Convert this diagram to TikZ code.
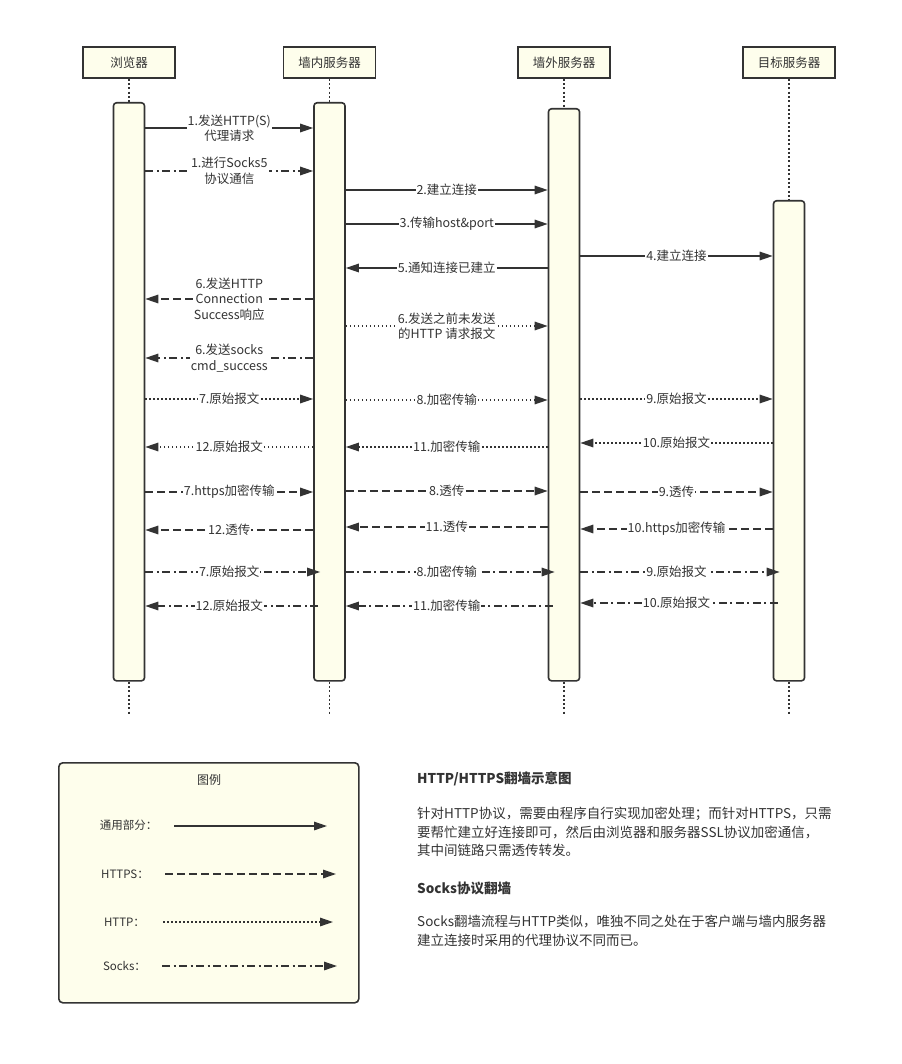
\documentclass[tikz,border=0pt]{standalone}
\usepackage{fontspec}
\setmainfont{Noto Sans CJK SC}
\usetikzlibrary{arrows.meta, positioning, calc}
\definecolor{ink}{HTML}{333333}
\definecolor{ivory}{HTML}{FEFEEC}
\def\barend{680}

\begin{document}
\begin{tikzpicture}[
    x=1pt, y=-1pt,
    every node/.style={text=ink},
    head/.style={draw=ink, line width=1.6pt, fill=ivory, minimum width=92pt,
                 minimum height=31pt, inner sep=0pt, font=\fontsize{12.5}{15}\selectfont},
    actbar/.style={draw=ink, line width=1.6pt, fill=ivory, rounded corners=3pt,
                   minimum width=31pt, inner sep=0pt, anchor=north},
    life/.style={draw=ink, line width=1.8pt, dash pattern=on 2pt off 2.3pt},
    msgall/.style={draw=ink, line width=1.4pt, -{Triangle[length=13pt, width=8.5pt]}},
    msghttps/.style={msgall, dash pattern=on 8pt off 4pt},
    msghttp/.style={msgall, dash pattern=on 1.5pt off 2.5pt},
    msgsocks/.style={msgall, dash pattern=on 8pt off 3.5pt on 2pt off 3.5pt},
    socksr/.style={msgsocks, shorten >=-7pt},
    socksl/.style={msgsocks, shorten <=-5pt},
    lab/.style={fill=white, inner sep=1pt, align=center,
                font=\fontsize{12.5}{15.5}\selectfont},
    legtxt/.style={font=\fontsize{11.5}{14}\selectfont},
    para/.style={font=\fontsize{13.5}{18.5}\selectfont, align=left, inner sep=0pt},
    heading/.style={font=\fontsize{13.5}{16}\selectfont\bfseries, inner sep=0pt, anchor=west},
]
\useasboundingbox (0,0) rectangle (901,1064);

% ---------------------------------------------------------- participants
\foreach \n/\x/\t/\top in {B/129/浏览器/102, I/329.5/墙内服务器/102,
                           O/564/墙外服务器/108, T/789/目标服务器/200} {
  \node[head] (h\n) at (\x, 62.5) {\t};
  \node[actbar, minimum height=\barend-\top] (a\n) at (\x, \top) {};
  \draw[life] (h\n.south) -- (a\n.north);
  \draw[life] (a\n.south) -- ++(0, 34);
}

% ---------------------------------------------------------- set-up messages
\foreach \y/\p/\q/\s/\l in {
    128/aB.east/aI.west/msgall/{1.发送HTTP(S)\\代理请求},
    171/aB.east/aI.west/msgsocks/{1.进行Socks5\\协议通信},
    190/aI.east/aO.west/msgall/{2.建立连接},
    224/aI.east/aO.west/msgall/{3.传输host\&port},
    256/aO.east/aT.west/msgall/{4.建立连接},
    268/aO.west/aI.east/msgall/{5.通知连接已建立},
    299/aI.west/aB.east/msghttps/{6.发送HTTP\\Connection\\Success响应},
    326/aI.east/aO.west/msghttp/{6.发送之前未发送\\的HTTP 请求报文},
    358/aI.west/aB.east/msgsocks/{6.发送socks\\cmd\_success}} {
  \draw[\s] (\p |- 0,\y) -- node[lab] {\l} (\q |- 0,\y);
}

% ---------------------------------------------------------- data transfer
\foreach \y/\p/\q/\s/\l in {
    399/aB.east/aI.west/msghttp/{7.原始报文},
    400/aI.east/aO.west/msghttp/{8.加密传输},
    399/aO.east/aT.west/msghttp/{9.原始报文},
    443/aT.west/aO.east/msghttp/{10.原始报文},
    447/aO.west/aI.east/msghttp/{11.加密传输},
    447/aI.west/aB.east/msghttp/{12.原始报文},
    492/aB.east/aI.west/msghttps/{7.https加密传输},
    491/aI.east/aO.west/msghttps/{8.透传},
    492/aO.east/aT.west/msghttps/{9.透传},
    529/aT.west/aO.east/msghttps/{10.https加密传输},
    527/aO.west/aI.east/msghttps/{11.透传},
    530/aI.west/aB.east/msghttps/{12.透传},
    572/aB.east/aI.west/socksr/{7.原始报文},
    572/aI.east/aO.west/socksr/{8.加密传输},
    572/aO.east/aT.west/socksr/{9.原始报文},
    603/aT.west/aO.east/socksl/{10.原始报文},
    606/aO.west/aI.east/socksl/{11.加密传输},
    606/aI.west/aB.east/socksl/{12.原始报文}} {
  \draw[\s] (\p |- 0,\y) -- node[lab] {\l} (\q |- 0,\y);
}

% ---------------------------------------------------------- legend
\node[draw=ink, line width=1.6pt, fill=ivory, rounded corners=4pt,
      minimum width=300pt, minimum height=240pt, anchor=north west] (legend) at (58, 762) {};
\node[font=\fontsize{12}{14}\selectfont] (legtitle) at (209, 780) {图例};
\foreach \i/\tx/\ty/\t/\s/\xa/\xb/\yy in {
    1/128.5/825/通用部分：/msgall/174/327/826,
    2/125/874/HTTPS：/msghttps/165/336/874,
    3/124.5/922/HTTP：/msghttp/163/333/922,
    4/124.5/966/Socks：/msgsocks/162/337/966} {
  \node[legtxt] (lg\i) at (\tx, \ty) {\t};
  \coordinate (ls\i) at (\xa, \yy);
  \coordinate (le\i) at (\xb, \yy);
  \draw[\s] (ls\i) -- (le\i);
}

% ---------------------------------------------------------- notes
\node[heading] (t1) at (417, 779) {HTTP/HTTPS翻墙示意图};
\node[para, anchor=north west] (p1) at (417, 807)
  {针对HTTP协议，需要由程序自行实现加密处理；而针对HTTPS，只需\\
   要帮忙建立好连接即可，然后由浏览器和服务器SSL协议加密通信，\\
   其中间链路只需透传转发。};
\node[heading] (t2) at (417, 888) {Socks协议翻墙};
\node[para, anchor=north west] (p2) at (417, 915)
  {Socks翻墙流程与HTTP类似，唯独不同之处在于客户端与墙内服务器\\
   建立连接时采用的代理协议不同而已。};

\end{tikzpicture}
\end{document}
